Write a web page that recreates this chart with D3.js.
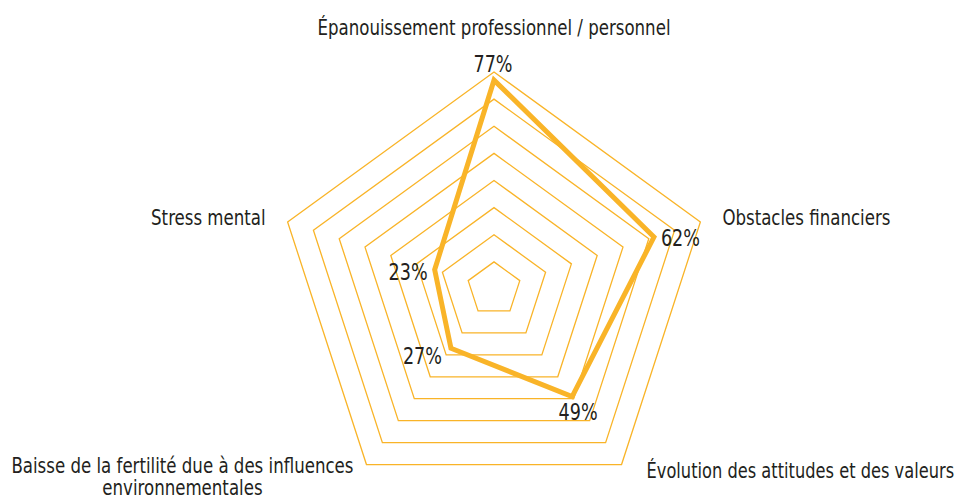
<!DOCTYPE html>
<html>
<head>
<meta charset="utf-8">
<script src="https://cdn.jsdelivr.net/npm/d3@7"></script>
<style>
  body { margin: 0; background: #fff; }
  text { font-family: "Liberation Sans Narrow", "DejaVu Sans Condensed", sans-serif; fill: #231f20; }
</style>
</head>
<body>
<svg id="chart" width="960" height="500"></svg>
<script>
// radar data
var axes = [
  "Épanouissement professionnel / personnel",
  "Obstacles financiers",
  "Évolution des attitudes et des valeurs",
  "Baisse de la fertilité due à des influences environnementales",
  "Stress mental"
];
var values = [77, 62, 49, 27, 23];
var levels = [10, 20, 30, 40, 50, 60, 70, 80];

var svg = d3.select('#chart');
var cx = 494, cy = 289, R = 217;
var color = '#f9b428';

var r = d3.scaleLinear().domain([0, 80]).range([0, R]);
var angle = d3.scaleLinear().domain([0, axes.length]).range([0, 2 * Math.PI]);

function pt(i, v) {
  var a = angle(i);
  return [cx + r(v) * Math.sin(a), cy - r(v) * Math.cos(a)];
}

var line = d3.line().curve(d3.curveLinearClosed);

// grid pentagons
svg.append('g').selectAll('path')
  .data(levels)
  .enter()
  .append('path')
  .attr('d', function (lv) {
    return line(axes.map(function (a, i) { return pt(i, lv); }));
  })
  .attr('fill', 'none')
  .attr('stroke', color)
  .attr('stroke-width', 1.3);

// data line
svg.append('path')
  .attr('d', line(values.map(function (v, i) { return pt(i, v); })))
  .attr('fill', 'none')
  .attr('stroke', color)
  .attr('stroke-width', 5)
  .attr('stroke-linejoin', 'miter');

// axis labels: offsets from the outer vertex
// (text is squeezed horizontally to look like the condensed original font)
var labelPos = [
  { dx: 0, dy: -37, anchor: 'middle', sx: 0.88 },
  { dx: 22, dy: 3, anchor: 'start', sx: 0.88 },
  { dx: 25, dy: 13, anchor: 'start', sx: 0.86 },
  { dx: -184, dy: 8, anchor: 'middle', sx: 0.88, lines: ["Baisse de la fertilité due à des influences", "environnementales"] },
  { dx: -22, dy: 3, anchor: 'end', sx: 0.88 }
];

var lab = svg.append('g').selectAll('g')
  .data(axes)
  .enter()
  .append('g')
  .attr('transform', function (d, i) {
    var p = pt(i, 80);
    return 'translate(' + (p[0] + labelPos[i].dx) + ',' + (p[1] + labelPos[i].dy) + ') scale(' + labelPos[i].sx + ',1)';
  })
  .append('text')
  .attr('text-anchor', function (d, i) { return labelPos[i].anchor; })
  .attr('font-size', 21);

lab.each(function (d, i) {
  var t = d3.select(this);
  var lines = labelPos[i].lines || [d];
  lines.forEach(function (l, k) {
    t.append('tspan').attr('x', 0).attr('dy', k === 0 ? 0 : 22).text(l);
  });
});

// value labels
var valPos = [
  { dx: -1, dy: -8, anchor: 'middle' },
  { dx: 7, dy: 9, anchor: 'start' },
  { dx: 6, dy: 23, anchor: 'middle' },
  { dx: -9, dy: 16, anchor: 'end' },
  { dx: -7, dy: 10, anchor: 'end' }
];

svg.append('g').selectAll('g')
  .data(values)
  .enter()
  .append('g')
  .attr('transform', function (d, i) {
    var p = pt(i, d);
    return 'translate(' + (p[0] + valPos[i].dx) + ',' + (p[1] + valPos[i].dy) + ') scale(0.85,1)';
  })
  .append('text')
  .attr('text-anchor', function (d, i) { return valPos[i].anchor; })
  .attr('font-size', 23)
  .text(function (d) { return d + '%'; });
</script>
</body>
</html>
